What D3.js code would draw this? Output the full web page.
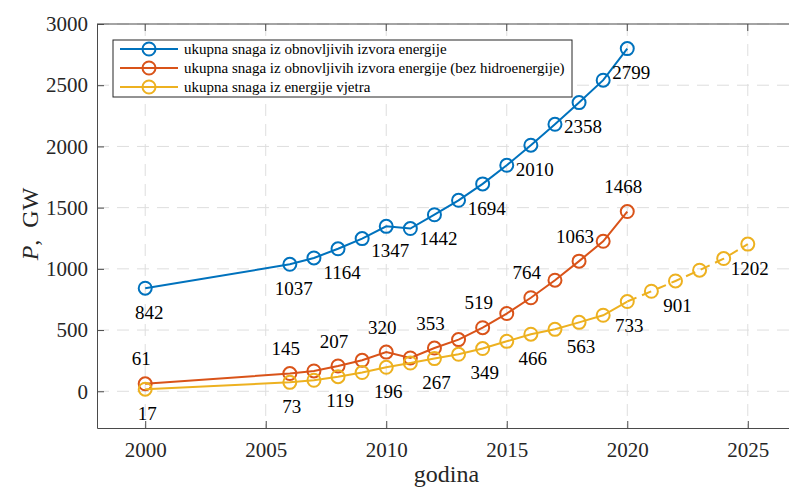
<!DOCTYPE html>
<html>
<head>
<meta charset="utf-8">
<script src="https://cdn.jsdelivr.net/npm/d3@7"></script>
<style>
  body { margin: 0; background: #fff; }
  svg { display: block; font-family: "Liberation Serif", "DejaVu Serif", serif; }
</style>
</head>
<body>
<div id="chart"></div>
<script>
// Data
const years = [2000, 2006, 2007, 2008, 2009, 2010, 2011, 2012, 2013, 2014, 2015, 2016, 2017, 2018, 2019, 2020];
const windYears = [2000, 2006, 2007, 2008, 2009, 2010, 2011, 2012, 2013, 2014, 2015, 2016, 2017, 2018, 2019, 2020,
  2021, 2022, 2023, 2024, 2025];

const totalRenewable = [842, 1037, 1089, 1164, 1247, 1347, 1329, 1442, 1560, 1694, 1846, 2010, 2181, 2358, 2541, 2799];
const renewableNoHydro = [61, 145, 166, 207, 253, 320, 272, 353, 422, 519, 635, 764, 907, 1063, 1225, 1468];
const windPower = [17, 73, 90, 119, 153, 196, 231, 267, 302, 349, 408, 466, 506, 563, 621, 733, 817, 901, 989, 1084, 1202];

const labelYears = [2000, 2006, 2008, 2010, 2012, 2014, 2016, 2018, 2020];
const windLabelYears = [2000, 2006, 2008, 2010, 2012, 2014, 2016, 2018, 2020, 2022, 2025];
const forecastFrom = 2020;

const seriesNames = [
  "ukupna snaga iz obnovljivih izvora energije",
  "ukupna snaga iz obnovljivih izvora energije (bez hidroenergije)",
  "ukupna snaga iz energije vjetra"
];
const colors = ["#0072BD", "#D95319", "#EDB120"];

const xTicks = [2000, 2005, 2010, 2015, 2020, 2025];
const yTicks = [0, 500, 1000, 1500, 2000, 2500, 3000];

// Layout
const fullWidth = 789;
const fullHeight = 488;
const margin = { top: 24, right: -7, bottom: 60, left: 97 };
const width = fullWidth - margin.left - margin.right;
const height = fullHeight - margin.top - margin.bottom;

const svg = d3.select("#chart")
  .append("svg")
  .attr("width", fullWidth)
  .attr("height", fullHeight);

const g = svg.append("g")
  .attr("transform", `translate(${margin.left},${margin.top})`);

// Scales
const xScale = d3.scaleLinear().domain([1998, 2027]).range([0, width]);
const yScale = d3.scaleLinear().domain([-300, 3000]).range([height, 0]);

// Grid
const grid = g.append("g").attr("class", "grid");
grid.selectAll(".gx")
  .data(xTicks)
  .join("line")
  .attr("x1", d => xScale(d)).attr("x2", d => xScale(d))
  .attr("y1", 0).attr("y2", height)
  .attr("stroke", "#dedede")
  .attr("stroke-width", 1)
  .attr("stroke-dasharray", "12,8");
grid.selectAll(".gy")
  .data(yTicks)
  .join("line")
  .attr("x1", 0).attr("x2", width)
  .attr("y1", d => yScale(d)).attr("y2", d => yScale(d))
  .attr("stroke", "#dedede")
  .attr("stroke-width", 1)
  .attr("stroke-dasharray", "12,8");

// Axes (ticks inside, like MATLAB)
const axisColor = "#4a4a4a";

const xAxis = g.append("g")
  .attr("transform", `translate(0,${height})`)
  .call(d3.axisBottom(xScale).tickValues(xTicks).tickFormat(d3.format("d")).tickSizeInner(-7).tickSizeOuter(0).tickPadding(14));

const yAxis = g.append("g")
  .call(d3.axisLeft(yScale).tickValues(yTicks).tickFormat(d3.format("d")).tickSizeInner(-7).tickSizeOuter(0).tickPadding(9));

[xAxis, yAxis].forEach(ax => {
  ax.select(".domain").attr("stroke", axisColor);
  ax.selectAll(".tick line").attr("stroke", axisColor);
  ax.selectAll(".tick text")
    .attr("fill", "#262626")
    .style("font-family", "Liberation Serif, serif")
    .style("font-size", "21px");
});

// top border + top ticks
g.append("line")
  .attr("x1", 0).attr("x2", width).attr("y1", 0).attr("y2", 0)
  .attr("stroke", axisColor);
g.selectAll(".topTick")
  .data(xTicks)
  .join("line")
  .attr("x1", d => xScale(d)).attr("x2", d => xScale(d))
  .attr("y1", 0).attr("y2", 7)
  .attr("stroke", axisColor);

// Axis labels
svg.append("text")
  .attr("x", margin.left + width / 2)
  .attr("y", 482)
  .attr("text-anchor", "middle")
  .style("font-size", "24px")
  .attr("fill", "#262626")
  .text("godina");

const yLab = svg.append("text")
  .attr("transform", "translate(38,224) rotate(-90)")
  .attr("text-anchor", "middle")
  .style("font-size", "24px")
  .attr("fill", "#262626");
yLab.append("tspan").style("font-style", "italic").text("P");
yLab.append("tspan").attr("xml:space", "preserve").text(",\u00A0\u00A0GW");

// Series
const line = d3.line()
  .x(d => xScale(d.year))
  .y(d => yScale(d.value));

const series = [
  { name: seriesNames[0], color: colors[0], data: years.map((y, i) => ({ year: y, value: totalRenewable[i] })), labels: labelYears, below: true, dx: 4 },
  { name: seriesNames[1], color: colors[1], data: years.map((y, i) => ({ year: y, value: renewableNoHydro[i] })), labels: labelYears, below: false, dx: -4 },
  { name: seriesNames[2], color: colors[2], data: windYears.map((y, i) => ({ year: y, value: windPower[i] })), labels: windLabelYears, below: true, dx: 2 }
];

series.forEach(s => {
  const solid = s.data.filter(d => d.year <= forecastFrom);
  const dashed = s.data.filter(d => d.year >= forecastFrom);

  g.append("path")
    .datum(solid)
    .attr("fill", "none")
    .attr("stroke", s.color)
    .attr("stroke-width", 2)
    .attr("d", line);

  if (dashed.length > 1) {
    g.append("path")
      .datum(dashed)
      .attr("fill", "none")
      .attr("stroke", s.color)
      .attr("stroke-width", 2)
      .attr("stroke-dasharray", "10,6")
      .attr("d", line);
  }

  g.selectAll(null)
    .data(s.data)
    .join("circle")
    .attr("cx", d => xScale(d.year))
    .attr("cy", d => yScale(d.value))
    .attr("r", 6.5)
    .attr("fill", "none")
    .attr("stroke", s.color)
    .attr("stroke-width", 2);

  g.selectAll(null)
    .data(s.data.filter(d => s.labels.includes(d.year)))
    .join("text")
    .attr("x", d => xScale(d.year) + s.dx)
    .attr("y", d => yScale(d.value) + (s.below ? 24 : -25))
    .attr("dy", "0.35em")
    .attr("text-anchor", "middle")
    .style("font-size", "19px")
    .attr("fill", "#000")
    .text(d => d.value);
});

// Legend
const legend = svg.append("g").attr("transform", "translate(113,40)");
legend.append("rect")
  .attr("width", 459)
  .attr("height", 57)
  .attr("fill", "#fff")
  .attr("stroke", "#262626")
  .attr("stroke-width", 1);

series.forEach((s, i) => {
  const row = legend.append("g").attr("transform", `translate(0,${9 + i * 19})`);
  row.append("line")
    .attr("x1", 7).attr("x2", 65)
    .attr("stroke", s.color)
    .attr("stroke-width", 2);
  row.append("circle")
    .attr("cx", 36).attr("r", 6.5)
    .attr("fill", "none")
    .attr("stroke", s.color)
    .attr("stroke-width", 2);
  row.append("text")
    .attr("x", 71)
    .attr("dy", "0.35em")
    .style("font-size", "15px")
    .attr("fill", "#000")
    .text(s.name);
});
</script>
</body>
</html>
